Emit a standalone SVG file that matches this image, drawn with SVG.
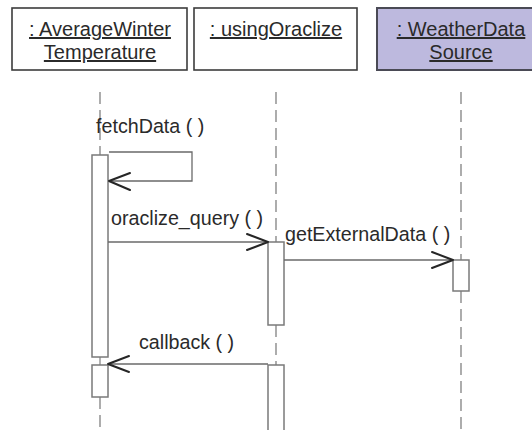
<svg xmlns="http://www.w3.org/2000/svg" width="532" height="430" viewBox="0 0 532 430">
  <style>
    .obj { fill: #ffffff; stroke: #3c3c3c; stroke-width: 1.6; }
    .obj.ext { fill: #bdb9de; stroke: #4a4a55; stroke-width: 2; }
    .name { font-family: "Liberation Sans", Arial, sans-serif; font-size: 20px; fill: #2a2a2a; text-anchor: middle; text-decoration: underline; }
    .life { stroke: #8a8a8a; stroke-width: 1.4; stroke-dasharray: 12 6; fill: none; }
    .act { fill: #ffffff; stroke: #7a7a7a; stroke-width: 1.5; }
    .msg { stroke: #6a6a6a; stroke-width: 1.3; fill: none; }
    .head { stroke: #262626; stroke-width: 2; fill: none; stroke-linecap: round; stroke-linejoin: round; }
    .label { font-family: "Liberation Sans", Arial, sans-serif; font-size: 19.7px; fill: #2a2a2a; }
  </style>

  <!-- lifelines -->
  <g id="lifelines">
    <line class="life" x1="100" y1="92" x2="100" y2="155"/>
    <line x1="100" y1="357" x2="100" y2="365" stroke="#8a8a8a" stroke-width="1.3"/>
    <line class="life" x1="100" y1="397" x2="100" y2="430"/>
    <line class="life" x1="276" y1="92" x2="276" y2="242"/>
    <line class="life" x1="276" y1="325" x2="276" y2="365"/>
    <line class="life" x1="461" y1="92" x2="461" y2="260"/>
    <line class="life" x1="461" y1="291" x2="461" y2="430"/>
  </g>

  <!-- objects -->
  <g id="averageWinterTemperature">
    <rect class="obj" x="12" y="8" width="175" height="62"/>
    <text class="name" x="100" y="36">: AverageWinter</text>
    <text class="name" x="100" y="59">Temperature</text>
    <rect class="act" x="92" y="155" width="16" height="202"/>
    <rect class="act" x="92" y="365" width="16" height="32"/>
  </g>

  <g id="usingOraclize">
    <rect class="obj" x="194" y="8" width="163" height="62"/>
    <text class="name" x="276" y="36">: usingOraclize</text>
    <rect class="act" x="268" y="242" width="16" height="83"/>
    <rect class="act" x="268" y="365" width="16" height="70"/>
  </g>

  <g id="weatherDataSource">
    <rect class="obj ext" x="377" y="8" width="170" height="62"/>
    <text class="name" x="461" y="36">: WeatherData</text>
    <text class="name" x="461" y="59">Source</text>
    <rect class="act" x="453" y="260" width="16" height="31"/>
  </g>

  <!-- messages -->
  <g id="connectors">
    <!-- fetchData: self call -->
    <polyline class="msg" points="109,152 192,152 192,181 109,181"/>
    <polyline class="head" points="130,173 109,181 130,190"/>
    <text class="label" x="96" y="133">fetchData ( )</text>

    <!-- oraclize_query -->
    <line class="msg" x1="108" y1="242" x2="268" y2="242"/>
    <polyline class="head" points="247,234 268,242 247,250"/>
    <text class="label" x="111" y="225">oraclize_query ( )</text>

    <!-- getExternalData -->
    <line class="msg" x1="284" y1="260" x2="453" y2="260"/>
    <polyline class="head" points="432,252 453,260 432,268"/>
    <text class="label" x="285" y="241">getExternalData ( )</text>

    <!-- callback -->
    <line class="msg" x1="268" y1="364" x2="108" y2="364"/>
    <polyline class="head" points="129,356 108,364 129,372"/>
    <text class="label" x="139" y="349">callback ( )</text>
  </g>
</svg>
